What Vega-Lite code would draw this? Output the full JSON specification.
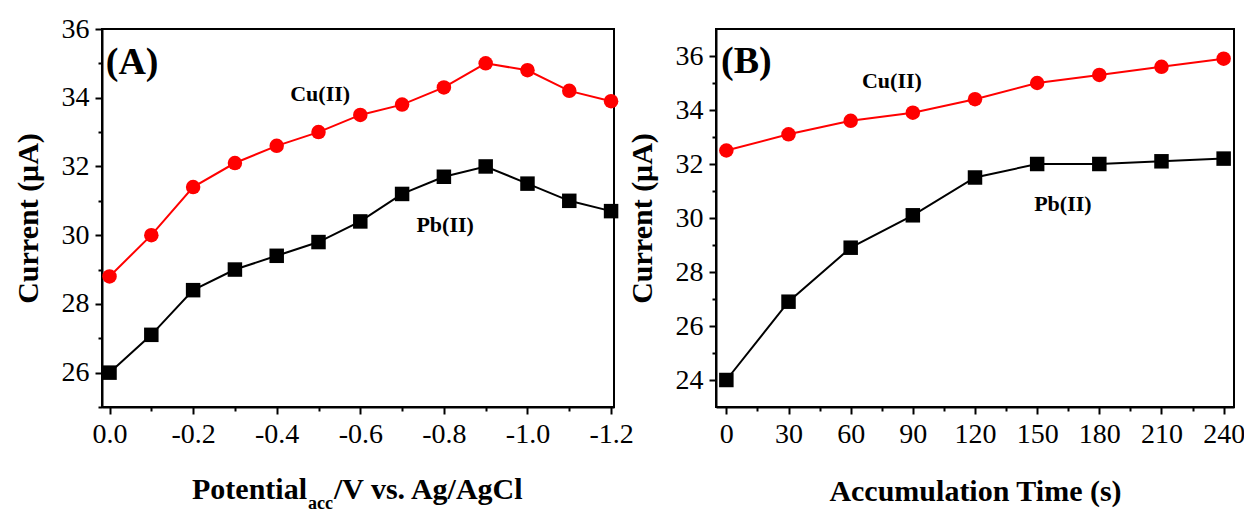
{
  "$schema": "https://vega.github.io/schema/vega-lite/v6.json",
  "background": "white",
  "padding": {"left": 12, "top": 14, "right": 5, "bottom": 0},
  "autosize": {"type": "pad"},
  "bounds": "flush",
  "spacing": 102,
  "datasets": {
    "A": [
      {"potential": 0.0, "series": "Cu(II)", "current": 28.8},
      {"potential": -0.1, "series": "Cu(II)", "current": 30.0},
      {"potential": -0.2, "series": "Cu(II)", "current": 31.4},
      {"potential": -0.3, "series": "Cu(II)", "current": 32.1},
      {"potential": -0.4, "series": "Cu(II)", "current": 32.6},
      {"potential": -0.5, "series": "Cu(II)", "current": 33.0},
      {"potential": -0.6, "series": "Cu(II)", "current": 33.5},
      {"potential": -0.7, "series": "Cu(II)", "current": 33.8},
      {"potential": -0.8, "series": "Cu(II)", "current": 34.3},
      {"potential": -0.9, "series": "Cu(II)", "current": 35.0},
      {"potential": -1.0, "series": "Cu(II)", "current": 34.8},
      {"potential": -1.1, "series": "Cu(II)", "current": 34.2},
      {"potential": -1.2, "series": "Cu(II)", "current": 33.9},
      {"potential": 0.0, "series": "Pb(II)", "current": 26.0},
      {"potential": -0.1, "series": "Pb(II)", "current": 27.1},
      {"potential": -0.2, "series": "Pb(II)", "current": 28.4},
      {"potential": -0.3, "series": "Pb(II)", "current": 29.0},
      {"potential": -0.4, "series": "Pb(II)", "current": 29.4},
      {"potential": -0.5, "series": "Pb(II)", "current": 29.8},
      {"potential": -0.6, "series": "Pb(II)", "current": 30.4},
      {"potential": -0.7, "series": "Pb(II)", "current": 31.2},
      {"potential": -0.8, "series": "Pb(II)", "current": 31.7},
      {"potential": -0.9, "series": "Pb(II)", "current": 32.0},
      {"potential": -1.0, "series": "Pb(II)", "current": 31.5},
      {"potential": -1.1, "series": "Pb(II)", "current": 31.0},
      {"potential": -1.2, "series": "Pb(II)", "current": 30.7}
    ],
    "B": [
      {"time": 0, "series": "Cu(II)", "current": 32.5},
      {"time": 30, "series": "Cu(II)", "current": 33.1},
      {"time": 60, "series": "Cu(II)", "current": 33.6},
      {"time": 90, "series": "Cu(II)", "current": 33.9},
      {"time": 120, "series": "Cu(II)", "current": 34.4},
      {"time": 150, "series": "Cu(II)", "current": 35.0},
      {"time": 180, "series": "Cu(II)", "current": 35.3},
      {"time": 210, "series": "Cu(II)", "current": 35.6},
      {"time": 240, "series": "Cu(II)", "current": 35.9},
      {"time": 0, "series": "Pb(II)", "current": 24.0},
      {"time": 30, "series": "Pb(II)", "current": 26.9},
      {"time": 60, "series": "Pb(II)", "current": 28.9},
      {"time": 90, "series": "Pb(II)", "current": 30.1},
      {"time": 120, "series": "Pb(II)", "current": 31.5},
      {"time": 150, "series": "Pb(II)", "current": 32.0},
      {"time": 180, "series": "Pb(II)", "current": 32.0},
      {"time": 210, "series": "Pb(II)", "current": 32.1},
      {"time": 240, "series": "Pb(II)", "current": 32.2}
    ]
  },
  "config": {
    "view": {"stroke": "black", "strokeWidth": 2},
    "font": "Liberation Serif, Times New Roman, serif",
    "text": {"font": "Liberation Serif, Times New Roman, serif"},
    "axis": {
      "grid": false,
      "labelFont": "Liberation Serif, Times New Roman, serif",
      "labelFontSize": 28,
      "labelColor": "black",
      "labelPadding": 6,
      "titleFont": "Liberation Serif, Times New Roman, serif",
      "titleFontSize": 30,
      "titleFontWeight": "bold",
      "titleColor": "black",
      "titlePadding": 18,
      "domainColor": "black",
      "domainWidth": 2,
      "tickColor": "black",
      "tickWidth": 2,
      "tickSize": 7
    }
  },
  "hconcat": [
    {
      "width": 512,
      "height": 378,
      "layer": [
        {
          "data": {"name": "A"},
          "mark": {"type": "line", "strokeWidth": 2},
          "encoding": {
            "x": {"field": "potential", "type": "quantitative",
                  "scale": {"domain": [0.018, -1.207], "nice": false, "zero": false},
                  "axis": {"orient": "bottom", "values": [-0.1, -0.3, -0.5, -0.7, -0.9, -1.1], "labels": false, "domain": false, "tickSize": 4, "title": null}},
            "y": {"field": "current", "type": "quantitative",
                  "scale": {"domain": [25, 36], "nice": false, "zero": false},
                  "axis": {"orient": "left", "values": [25, 27, 29, 31, 33, 35], "labels": false, "domain": false, "tickSize": 4, "title": null}},
            "color": {"field": "series", "type": "nominal", "scale": {"domain": ["Cu(II)", "Pb(II)"], "range": ["#FF0000", "#000000"]}, "legend": null}
          }
        },
        {
          "data": {"name": "A"},
          "mark": {"type": "point", "filled": true, "opacity": 1, "size": 210},
          "encoding": {
            "x": {"field": "potential", "type": "quantitative",
                  "axis": {"orient": "bottom", "values": [0, -0.2, -0.4, -0.6, -0.8, -1.0, -1.2], "labelExpr": "replace(format(datum.value, '.1f'), '\u2212', '-')", "title": null}},
            "y": {"field": "current", "type": "quantitative",
                  "axis": {"orient": "left", "values": [26, 28, 30, 32, 34, 36], "title": "Current (μA)"}},
            "color": {"field": "series", "type": "nominal", "scale": {"domain": ["Cu(II)", "Pb(II)"], "range": ["#FF0000", "#000000"]}, "legend": null},
            "shape": {"field": "series", "type": "nominal", "scale": {"domain": ["Cu(II)", "Pb(II)"], "range": ["circle", "square"]}, "legend": null}
          }
        },
        {
          "data": {"values": [{}]},
          "mark": {"type": "text", "text": "(A)", "fontSize": 38, "fontWeight": "bold", "color": "black", "align": "left", "baseline": "middle"},
          "encoding": {"x": {"datum": 0.009, "type": "quantitative", "axis": null}, "y": {"datum": 35.01, "type": "quantitative", "axis": null}}
        },
        {
          "data": {"values": [{}]},
          "mark": {"type": "text", "text": "Cu(II)", "fontSize": 22, "fontWeight": "bold", "color": "black", "align": "center", "baseline": "middle"},
          "encoding": {"x": {"datum": -0.504, "type": "quantitative", "axis": null}, "y": {"datum": 34.11, "type": "quantitative", "axis": null}}
        },
        {
          "data": {"values": [{}]},
          "mark": {"type": "text", "text": "Pb(II)", "fontSize": 22, "fontWeight": "bold", "color": "black", "align": "center", "baseline": "middle"},
          "encoding": {"x": {"datum": -0.803, "type": "quantitative", "axis": null}, "y": {"datum": 30.3, "type": "quantitative", "axis": null}}
        },
        {
          "data": {"values": [{}]},
          "mark": {"type": "text", "text": "Potential", "fontSize": 30, "fontWeight": "bold", "color": "black", "align": "right", "baseline": "alphabetic"},
          "encoding": {"x": {"datum": -0.4725, "type": "quantitative", "axis": null}, "y": {"datum": 22.32, "type": "quantitative", "axis": null}}
        },
        {
          "data": {"values": [{}]},
          "mark": {"type": "text", "text": "acc", "fontSize": 18, "fontWeight": "bold", "color": "black", "align": "left", "baseline": "alphabetic"},
          "encoding": {"x": {"datum": -0.4749, "type": "quantitative", "axis": null}, "y": {"datum": 22.03, "type": "quantitative", "axis": null}}
        },
        {
          "data": {"values": [{}]},
          "mark": {"type": "text", "text": "/V vs. Ag/AgCl", "fontSize": 30, "fontWeight": "bold", "color": "black", "align": "left", "baseline": "alphabetic"},
          "encoding": {"x": {"datum": -0.537, "type": "quantitative", "axis": null}, "y": {"datum": 22.32, "type": "quantitative", "axis": null}}
        }
      ],
      "resolve": {"axis": {"x": "independent", "y": "independent"}}
    },
    {
      "width": 518,
      "height": 378,
      "layer": [
        {
          "data": {"name": "B"},
          "mark": {"type": "line", "strokeWidth": 2},
          "encoding": {
            "x": {"field": "time", "type": "quantitative",
                  "scale": {"domain": [-5, 245], "nice": false, "zero": false},
                  "axis": {"orient": "bottom", "values": [15, 45, 75, 105, 135, 165, 195, 225], "labels": false, "domain": false, "tickSize": 4, "title": null}},
            "y": {"field": "current", "type": "quantitative",
                  "scale": {"domain": [23, 37], "nice": false, "zero": false},
                  "axis": {"orient": "left", "values": [25, 27, 29, 31, 33, 35], "labels": false, "domain": false, "tickSize": 4, "title": null}},
            "color": {"field": "series", "type": "nominal", "scale": {"domain": ["Cu(II)", "Pb(II)"], "range": ["#FF0000", "#000000"]}, "legend": null}
          }
        },
        {
          "data": {"name": "B"},
          "mark": {"type": "point", "filled": true, "opacity": 1, "size": 210},
          "encoding": {
            "x": {"field": "time", "type": "quantitative",
                  "axis": {"orient": "bottom", "values": [0, 30, 60, 90, 120, 150, 180, 210, 240], "title": "Accumulation Time (s)", "titlePadding": 28}},
            "y": {"field": "current", "type": "quantitative",
                  "axis": {"orient": "left", "values": [24, 26, 28, 30, 32, 34, 36], "title": "Current (μA)"}},
            "color": {"field": "series", "type": "nominal", "scale": {"domain": ["Cu(II)", "Pb(II)"], "range": ["#FF0000", "#000000"]}, "legend": null},
            "shape": {"field": "series", "type": "nominal", "scale": {"domain": ["Cu(II)", "Pb(II)"], "range": ["circle", "square"]}, "legend": null}
          }
        },
        {
          "data": {"values": [{}]},
          "mark": {"type": "text", "text": "(B)", "fontSize": 38, "fontWeight": "bold", "color": "black", "align": "left", "baseline": "middle"},
          "encoding": {"x": {"datum": -2.6, "type": "quantitative", "axis": null}, "y": {"datum": 35.78, "type": "quantitative", "axis": null}}
        },
        {
          "data": {"values": [{}]},
          "mark": {"type": "text", "text": "Cu(II)", "fontSize": 22, "fontWeight": "bold", "color": "black", "align": "center", "baseline": "middle"},
          "encoding": {"x": {"datum": 79.9, "type": "quantitative", "axis": null}, "y": {"datum": 35.07, "type": "quantitative", "axis": null}}
        },
        {
          "data": {"values": [{}]},
          "mark": {"type": "text", "text": "Pb(II)", "fontSize": 22, "fontWeight": "bold", "color": "black", "align": "center", "baseline": "middle"},
          "encoding": {"x": {"datum": 162.4, "type": "quantitative", "axis": null}, "y": {"datum": 30.52, "type": "quantitative", "axis": null}}
        }
      ],
      "resolve": {"axis": {"x": "independent", "y": "independent"}}
    }
  ]
}
